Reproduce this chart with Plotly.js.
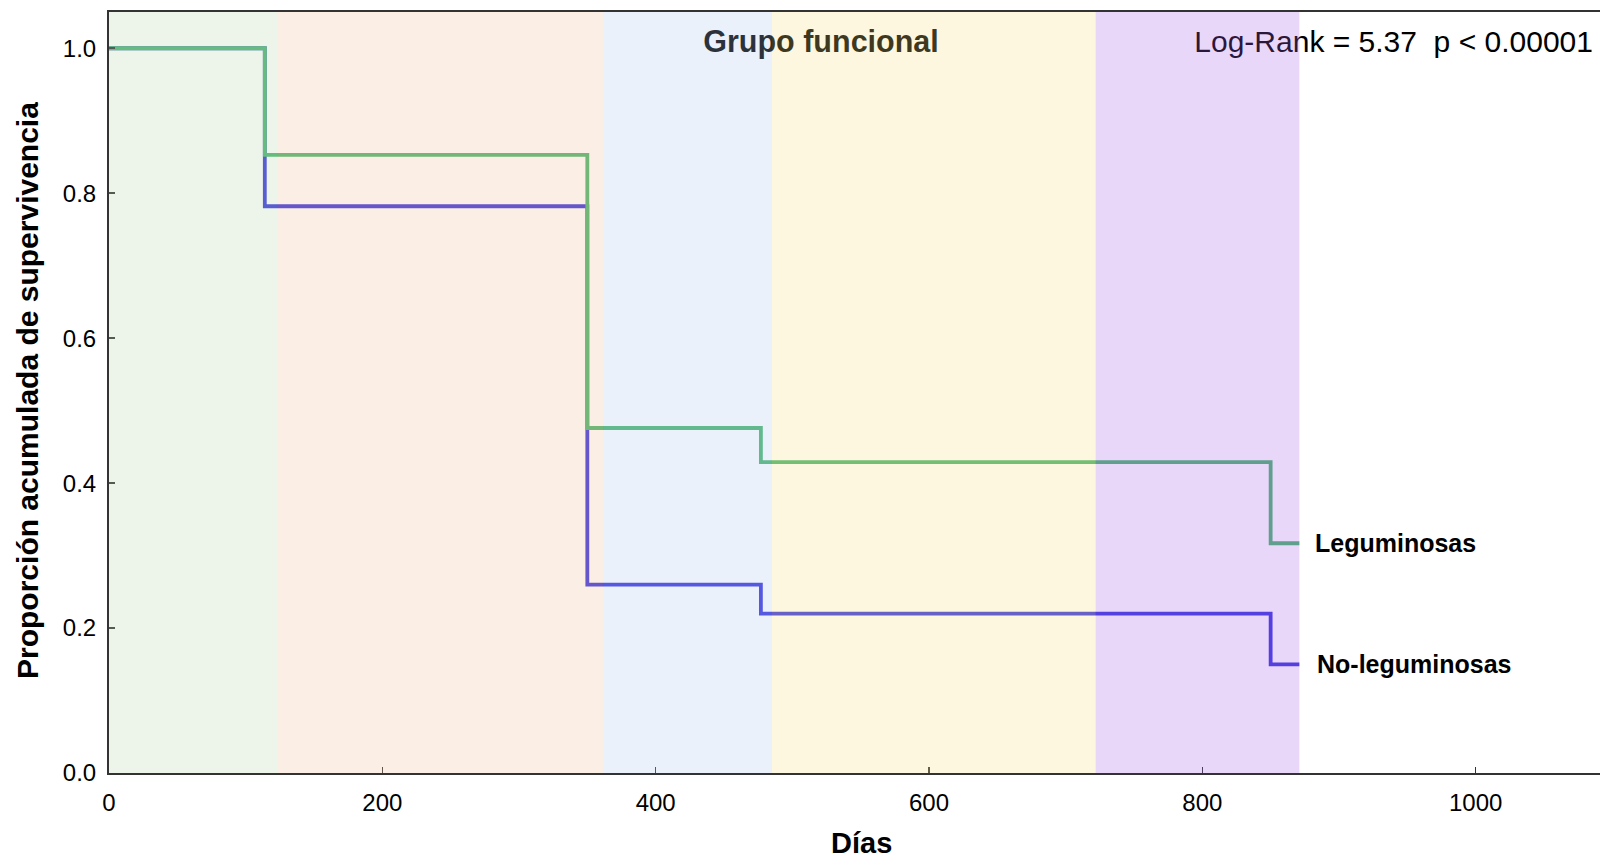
<!DOCTYPE html>
<html>
<head>
<meta charset="utf-8">
<script src="https://cdn.plot.ly/plotly-3.0.1.min.js"></script>
<style>
  html, body { margin: 0; padding: 0; background: #ffffff; }
  #chart { width: 1600px; height: 861px; }
</style>
</head>
<body>
<div id="chart"></div>
<script>
// Kaplan-Meier survival by functional group
const days = [0, 114, 350, 477, 850, 871];
const survLeguminosas = [1.0, 0.853, 0.476, 0.429, 0.317, 0.317];
const survNoLeguminosas = [1.0, 0.782, 0.26, 0.22, 0.15, 0.15];
const groupNames = ['Leguminosas', 'No-leguminosas'];

// Shaded periods along the time axis
const bandEdges = [0, 123, 362, 485, 722, 871];
const bandColors = [
  'rgba(183,215,171,0.25)',
  'rgba(239,187,151,0.25)',
  'rgba(171,199,235,0.25)',
  'rgba(247,223,131,0.25)',
  'rgba(167,95,235,0.25)'
];

const headerText = 'Grupo funcional';
const statText = 'Log-Rank = 5.37\u00a0\u00a0p < 0.00001';
const xTitle = 'Días';
const yTitle = 'Proporción acumulada de supervivencia';

const colorLeg = '#48b46e';
const colorNoLeg = '#3935de';
const fontFamily = 'Liberation Sans, Arial, sans-serif';

const traces = [
  {
    x: days, y: survNoLeguminosas, type: 'scatter', mode: 'lines',
    line: { shape: 'hv', color: colorNoLeg, width: 3.8 },
    name: groupNames[1], hoverinfo: 'skip'
  },
  {
    x: days, y: survLeguminosas, type: 'scatter', mode: 'lines',
    line: { shape: 'hv', color: colorLeg, width: 3.8 },
    name: groupNames[0], hoverinfo: 'skip'
  },
  {
    x: [521], y: [1.005], type: 'scatter', mode: 'text',
    text: ['<b>' + headerText + '</b>'], textposition: 'middle center',
    textfont: { family: fontFamily, size: 30.5, color: '#000000' },
    cliponaxis: false, hoverinfo: 'skip'
  },
  {
    x: [940], y: [1.005], type: 'scatter', mode: 'text',
    text: [statText], textposition: 'middle center',
    textfont: { family: fontFamily, size: 30, color: '#000000' },
    cliponaxis: false, hoverinfo: 'skip'
  }
];

const shapes = [];
for (let i = 0; i < bandColors.length; i++) {
  shapes.push({
    type: 'rect', xref: 'x', yref: 'paper',
    x0: bandEdges[i], x1: bandEdges[i + 1], y0: 0, y1: 1,
    fillcolor: bandColors[i], line: { width: 0 }, layer: 'above'
  });
}

const lastIdx = days.length - 1;
const annotations = [
  {
    x: days[lastIdx], y: survLeguminosas[lastIdx], xref: 'x', yref: 'y',
    text: '<b>' + groupNames[0] + '</b>', showarrow: false,
    xanchor: 'left', yanchor: 'middle', xshift: 14,
    font: { family: fontFamily, size: 25, color: '#000000' }
  },
  {
    x: days[lastIdx], y: survNoLeguminosas[lastIdx], xref: 'x', yref: 'y',
    text: '<b>' + groupNames[1] + '</b>', showarrow: false,
    xanchor: 'left', yanchor: 'middle', xshift: 16,
    font: { family: fontFamily, size: 25, color: '#000000' }
  },
  {
    // x axis title
    x: 0.505, y: 0, xref: 'paper', yref: 'paper',
    text: '<b>' + xTitle + '</b>', showarrow: false,
    xanchor: 'center', yanchor: 'middle', yshift: -70,
    font: { family: fontFamily, size: 29, color: '#000000' }
  },
  {
    // y axis title
    x: 0, y: 0.502, xref: 'paper', yref: 'paper',
    text: '<b>' + yTitle + '</b>', showarrow: false, textangle: -90,
    xanchor: 'center', yanchor: 'middle', xshift: -81,
    font: { family: fontFamily, size: 30, color: '#000000' }
  }
];

const layout = {
  width: 1600, height: 861,
  margin: { l: 109, r: 0, t: 12, b: 88 },
  paper_bgcolor: '#ffffff', plot_bgcolor: '#ffffff',
  showlegend: false,
  font: { family: fontFamily, color: '#000000' },
  xaxis: {
    range: [0, 1091], tickmode: 'linear', tick0: 0, dtick: 200,
    showgrid: false, zeroline: false,
    showline: true, linecolor: '#333333', linewidth: 2, mirror: true,
    ticks: 'inside', ticklen: 6, tickwidth: 1.5, tickcolor: '#333333',
    ticklabelstandoff: 7,
    tickfont: { family: fontFamily, size: 24, color: '#000000' }
  },
  yaxis: {
    range: [0, 1.05], tickmode: 'linear', tick0: 0, dtick: 0.2, tickformat: '.1f',
    showgrid: false, zeroline: false,
    showline: true, linecolor: '#333333', linewidth: 2,
    ticks: 'inside', ticklen: 6, tickwidth: 1.5, tickcolor: '#333333',
    ticklabelstandoff: 6,
    tickfont: { family: fontFamily, size: 24, color: '#000000' }
  },
  shapes: shapes,
  annotations: annotations
};

Plotly.newPlot('chart', traces, layout, { staticPlot: true, displayModeBar: false });
</script>
</body>
</html>
